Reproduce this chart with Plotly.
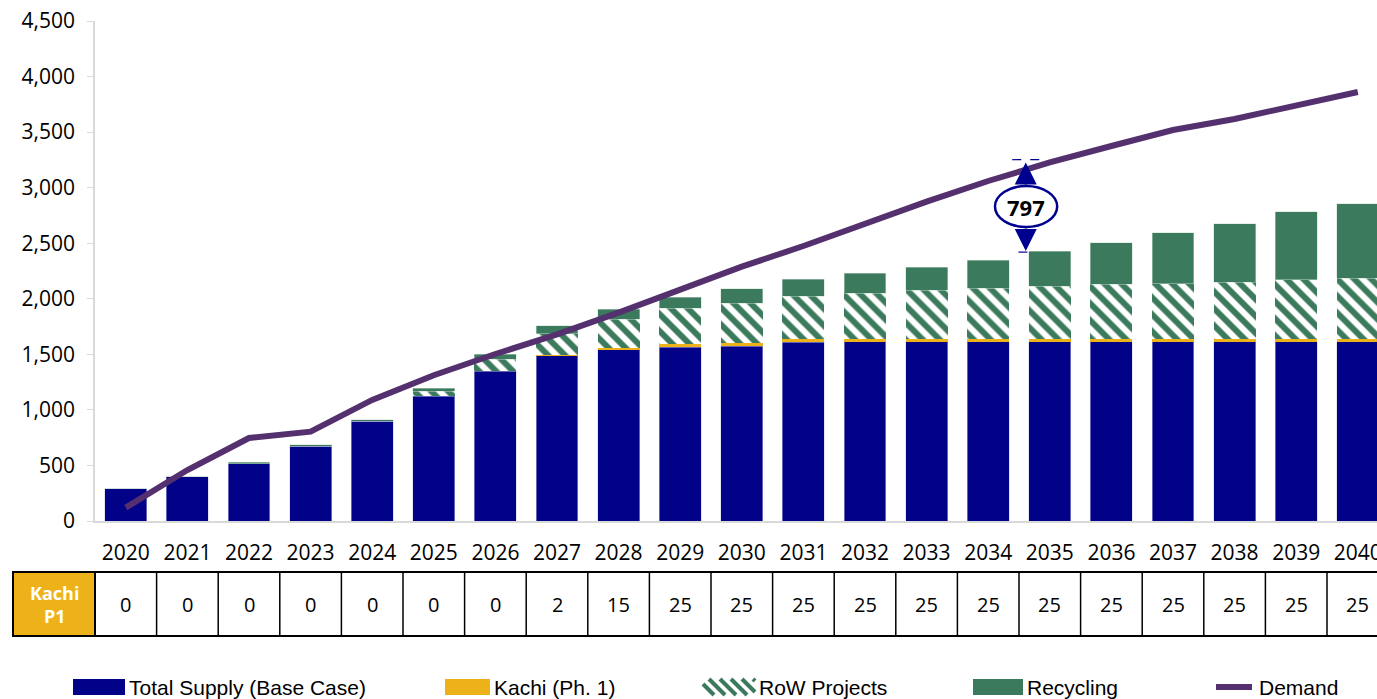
import plotly.graph_objects as go

years = [str(y) for y in range(2020, 2041)]
base_supply = [290, 400, 515, 675, 900, 1125, 1350, 1488, 1545, 1565, 1575, 1610, 1613, 1613, 1613, 1613, 1613, 1613, 1613, 1613, 1613]
kachi = [0, 0, 0, 0, 0, 0, 0, 2, 15, 25, 25, 25, 25, 25, 25, 25, 25, 25, 25, 25, 25]
row_projects = [0, 0, 0, 0, 0, 45, 108, 195, 258, 324, 360, 390, 411, 441, 456, 474, 492, 496, 511, 535, 547]
recycling = [0, 0, 12, 12, 12, 27, 45, 72, 90, 99, 129, 153, 180, 204, 255, 318, 375, 459, 528, 612, 672]
demand = [120, 459, 747, 804, 1090, 1312, 1503, 1680, 1876, 2088, 2289, 2475, 2679, 2874, 3060, 3227, 3375, 3519, 3618, 3744, 3861]
y_ticks = [0, 500, 1000, 1500, 2000, 2500, 3000, 3500, 4000, 4500]
legend_labels = ["Total Supply (Base Case)", "Kachi (Ph. 1)", "RoW Projects", "Recycling", "Demand"]

NAVY = "#020288"
GOLD = "#EDB21A"
GREEN = "#3B7A5C"
PURPLE = "#55306F"
ARROW = "#000090"
OPEN = "Open Sans, sans-serif"
NARROW = "Liberation Sans Narrow, Arial Narrow, sans-serif"

xi = list(range(len(years)))
BW = 0.68
edge = dict(color="rgba(200,200,230,0.8)", width=0.6)

fig = go.Figure()
fig.add_trace(go.Bar(x=xi, y=base_supply, name=legend_labels[0], width=BW,
                     marker=dict(color=NAVY, line=edge)))
fig.add_trace(go.Bar(x=xi, y=kachi, name=legend_labels[1], width=BW,
                     marker=dict(color=GOLD, line=dict(width=0))))
fig.add_trace(go.Bar(x=xi, y=row_projects, name=legend_labels[2], width=BW,
                     marker=dict(color="white", line=dict(width=0),
                                 pattern=dict(shape="\\", fgcolor=GREEN, bgcolor="white",
                                              fgopacity=1, size=12, solidity=0.5))))
fig.add_trace(go.Bar(x=xi, y=recycling, name=legend_labels[3], width=BW,
                     marker=dict(color=GREEN, line=dict(color="rgba(200,220,210,0.8)", width=0.6))))
fig.add_trace(go.Scatter(x=xi, y=demand, name=legend_labels[4], mode="lines",
                         line=dict(color=PURPLE, width=6)))

# layout geometry (pixels)
L, T, PW, PH = 95, 21, 1282, 500
step = 61.6
xmax = -0.5 + PW / step

def px_x(p):
    return (p - L) / PW

def px_y(p):
    return (T + PH - p) / PH

shapes = []
annotations = []

# ---- table below the chart
t_top, t_bot = px_y(572), px_y(636)
t_mid = (t_top + t_bot) / 2
line_k = dict(color="black", width=2)
hx0 = px_x(13)
shapes.append(dict(type="rect", xref="paper", yref="paper", x0=hx0, x1=0, y0=t_bot, y1=t_top,
                   fillcolor=GOLD, line=line_k))
annotations.append(dict(xref="paper", yref="paper", x=hx0 / 2, y=t_mid, xanchor="center", yanchor="middle",
                        text="<b>Kachi<br>P1</b>", showarrow=False,
                        font=dict(family=OPEN, size=18, color="white")))
for yy in (t_top, t_bot):
    shapes.append(dict(type="line", xref="x", yref="paper", x0=-0.5, x1=len(years) - 0.5,
                       y0=yy, y1=yy, line=line_k))
for i in range(len(years) + 1):
    shapes.append(dict(type="line", xref="x", yref="paper", x0=i - 0.5, x1=i - 0.5,
                       y0=t_bot, y1=t_top, line=dict(color="black", width=1.5)))
for i, v in enumerate(kachi):
    annotations.append(dict(xref="x", yref="paper", x=i, y=t_mid, xanchor="center", yanchor="middle",
                            text=f"{v}", showarrow=False,
                            font=dict(family=OPEN, size=20, color="black")))

# ---- gap annotation (2035)
gi = years.index("2035")
top_v = demand[gi]
bot_v = base_supply[gi] + kachi[gi] + row_projects[gi] + recycling[gi]
gap = top_v - bot_v
ax_x = 14.61
e_y0, e_y1 = (T + PH - 227) * 9, (T + PH - 186) * 9
shapes.append(dict(type="circle", xref="x", yref="y", x0=14.11, x1=15.12, y0=e_y0, y1=e_y1,
                   fillcolor="white", line=dict(color=ARROW, width=2.5), layer="above"))
shapes.append(dict(type="line", xref="x", yref="y", x0=14.39, x1=14.86, y0=top_v + 25, y1=top_v + 25,
                   line=dict(color=ARROW, width=1.2, dash="dash")))
shapes.append(dict(type="line", xref="x", yref="y", x0=14.49, x1=14.73, y0=bot_v - 10, y1=bot_v - 10,
                   line=dict(color=ARROW, width=1.2, dash="dash")))
annotations.append(dict(xref="x", yref="y", x=ax_x, y=(e_y0 + e_y1) / 2, xanchor="center", yanchor="middle",
                        text=f"<b>{gap:,.0f}</b>", showarrow=False,
                        font=dict(family=OPEN, size=22, color="black")))
for tip, tail in ((top_v, e_y1), (bot_v, e_y0)):
    annotations.append(dict(xref="x", yref="y", x=ax_x, y=tip, axref="x", ayref="y", ax=ax_x, ay=tail,
                            text="", showarrow=True, arrowhead=2, arrowsize=2.2, arrowwidth=2,
                            arrowcolor=ARROW, standoff=0))

# ---- custom legend (swatches + text)
leg_cy = 687
sw_h = 16
leg_items = [
    (73, 125, "solid", NAVY),
    (445, 490, "solid", GOLD),
    (703, 755, "hatch", GREEN),
    (973, 1023, "solid", GREEN),
    (1213, 1255, "line", PURPLE),
]
for (x0, x1, kind, col), label in zip(leg_items, legend_labels):
    if kind == "solid":
        shapes.append(dict(type="rect", xref="paper", yref="paper", x0=px_x(x0), x1=px_x(x1),
                           y0=px_y(leg_cy + sw_h / 2), y1=px_y(leg_cy - sw_h / 2),
                           fillcolor=col, line=dict(width=0)))
    elif kind == "line":
        shapes.append(dict(type="line", xref="paper", yref="paper", x0=px_x(x0 + 3), x1=px_x(x1 - 3),
                           y0=px_y(leg_cy), y1=px_y(leg_cy), line=dict(color=col, width=6)))
    else:
        ytop, ybot = leg_cy - sw_h / 2, leg_cy + sw_h / 2
        period = 11
        s = x0 - sw_h
        while s < x1:
            a, b = s, s + sw_h
            ya, yb = ytop, ybot
            if a < x0:
                ya = ytop + (x0 - a)
                a = x0
            if b > x1:
                yb = ybot - (b - x1)
                b = x1
            if b > a:
                shapes.append(dict(type="line", xref="paper", yref="paper", x0=px_x(a), x1=px_x(b),
                                   y0=px_y(ya), y1=px_y(yb), line=dict(color=col, width=4)))
            s += period
    annotations.append(dict(xref="paper", yref="paper", x=px_x(x1 + 2), y=px_y(leg_cy),
                            xanchor="left", yanchor="middle", text=label, showarrow=False,
                            font=dict(family=NARROW, size=21, color="black")))

fig.update_layout(
    width=1377, height=699,
    margin=dict(l=L, r=0, t=T, b=699 - T - PH, pad=0, autoexpand=False),
    paper_bgcolor="white", plot_bgcolor="white",
    barmode="stack",
    showlegend=False,
    xaxis=dict(range=[-0.5, xmax], tickmode="array", tickvals=xi, ticktext=years,
               showgrid=False, zeroline=False, showline=True, linecolor="#D9D9D9", linewidth=1.5,
               ticks="", ticklabelstandoff=12, ticklabeloverflow="allow",
               tickfont=dict(family=OPEN, size=21, color="black")),
    yaxis=dict(range=[0, 4500], tickvals=y_ticks, tickformat=",", showgrid=False, zeroline=False,
               showline=True, linecolor="#D9D9D9", linewidth=1.5, ticks="outside", ticklen=6,
               tickcolor="#D9D9D9", ticklabelstandoff=8,
               tickfont=dict(family=OPEN, size=21, color="black")),
    shapes=shapes, annotations=annotations,
)

fig.write_html("out.html", config={"displayModeBar": False},
               post_script="document.body.style.margin='0px';document.body.style.overflow='hidden';")
